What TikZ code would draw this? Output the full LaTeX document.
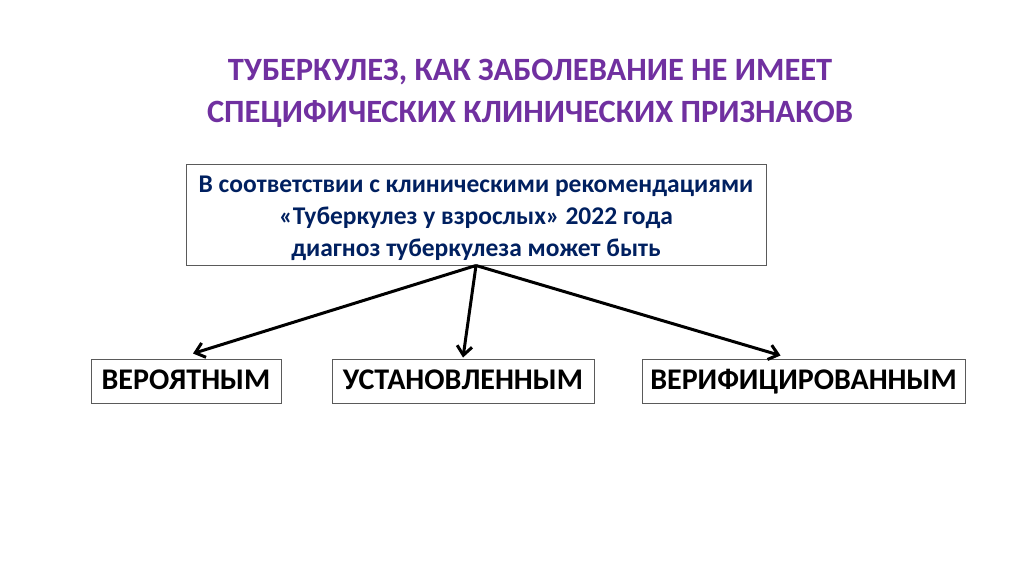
\documentclass[tikz,border=0pt]{standalone}
\usepackage{fontspec}
\setmainfont{Carlito}
\usepackage{xcolor}
\usetikzlibrary{arrows.meta}
\definecolor{titlepurple}{RGB}{112,48,160}
\definecolor{boxnavy}{RGB}{0,32,96}
\definecolor{framegray}{RGB}{90,90,90}

\begin{document}
\begin{tikzpicture}[x=1pt,y=-1pt,
  frame/.style={draw=framegray,line width=1pt,inner sep=0pt},
  kind/.style={frame,minimum height=44pt,text height=19pt,text depth=3pt,
    font=\bfseries\fontsize{30}{36}\selectfont},
  link/.style={-{Straight Barb[length=9pt,width=15pt]},line width=3pt,black}]
\useasboundingbox[fill=white] (0,0) rectangle (1024,574);

% Title
\node[titlepurple,font=\bfseries\fontsize{32.5}{42}\selectfont,align=center] (title) at (530,93)
  {ТУБЕРКУЛЕЗ, КАК ЗАБОЛЕВАНИЕ НЕ ИМЕЕТ\\СПЕЦИФИЧЕСКИХ КЛИНИЧЕСКИХ ПРИЗНАКОВ};

% Recommendation box
\node[frame,minimum width=580pt,minimum height=101pt] (diag) at (476,214.5) {};
\node[boxnavy,font=\bfseries\fontsize{25.5}{32}\selectfont,align=center] (diagtext) at (476,218)
  {В соответствии с клиническими рекомендациями\\«Туберкулез у взрослых» 2022 года\\диагноз туберкулеза может быть};

% Diagnosis kinds
\node[kind,minimum width=190pt] (prob) at (186,381) {ВЕРОЯТНЫМ};
\node[kind,minimum width=262pt] (est) at (463,381) {УСТАНОВЛЕННЫМ};
\node[kind,minimum width=323pt] (ver) at (803.5,381) {ВЕРИФИЦИРОВАННЫМ};

% Arrows
\draw[link] (diag.south) -- ([xshift=7pt,yshift=5pt]prob.north);
\draw[link] (diag.south) -- ([yshift=1pt]est.north);
\draw[link] (diag.south) -- ([xshift=-23pt,yshift=3pt]ver.north);
\end{tikzpicture}
\end{document}
